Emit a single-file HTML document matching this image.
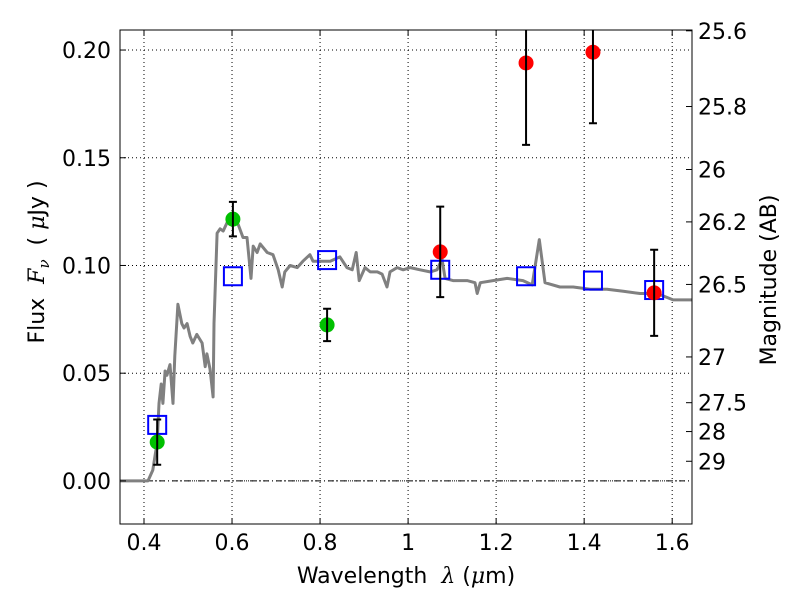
<!DOCTYPE html>
<html><head><meta charset="utf-8"><style>
body{margin:0;background:#fff}
svg{display:block;font-family:"DejaVu Sans","Liberation Sans",sans-serif}
</style></head><body>
<svg id="chart" width="800" height="600" xmlns="http://www.w3.org/2000/svg">
<rect x="0" y="0" width="800" height="600" fill="#fff"/>
<g id="grid"></g>
<g id="plot"></g>
<g id="axes"></g>
<text x="406" y="583" font-size="22" text-anchor="middle" xml:space="preserve">Wavelength  <tspan font-style="italic" font-family="DejaVu Serif,serif">λ</tspan> (<tspan font-style="italic" font-family="DejaVu Serif,serif">μ</tspan>m)</text>
<text transform="translate(44,262) rotate(-90)" font-size="22" text-anchor="middle" xml:space="preserve">Flux  <tspan font-style="italic" font-family="DejaVu Serif,serif">F<tspan font-size="15" dy="5">ν</tspan></tspan><tspan dy="-5">  ( </tspan><tspan font-style="italic" font-family="DejaVu Serif,serif">μ</tspan>Jy )</text>
<text transform="translate(776,280) rotate(-90)" font-size="22" text-anchor="middle">Magnitude (AB)</text>
</svg>
<script>
const specWave=[0.345,0.407,0.409,0.420,0.430,0.434,0.439,0.443,0.448,0.452,0.459,0.466,0.470,0.477,0.486,0.491,0.498,0.505,0.511,0.520,0.532,0.539,0.543,0.550,0.557,0.559,0.566,0.573,0.580,0.589,0.602,0.614,0.625,0.634,0.643,0.648,0.657,0.664,0.680,0.693,0.705,0.714,0.720,0.732,0.748,0.761,0.777,0.784,0.800,0.823,0.845,0.861,0.873,0.882,0.889,0.902,0.914,0.930,0.941,0.952,0.959,0.975,0.989,1.005,1.027,1.050,1.066,1.077,1.084,1.102,1.134,1.152,1.157,1.164,1.193,1.225,1.261,1.282,1.298,1.311,1.345,1.375,1.414,1.452,1.489,1.527,1.566,1.602,1.648];
const specFlux=[0,0,0,0.005,0.018,0.036,0.045,0.036,0.051,0.049,0.054,0.036,0.058,0.082,0.073,0.071,0.073,0.067,0.064,0.068,0.064,0.053,0.059,0.052,0.039,0.073,0.115,0.117,0.116,0.120,0.121,0.119,0.113,0.113,0.094,0.109,0.106,0.110,0.106,0.105,0.098,0.090,0.097,0.100,0.099,0.102,0.105,0.102,0.102,0.102,0.104,0.099,0.098,0.106,0.093,0.099,0.097,0.097,0.096,0.090,0.097,0.099,0.098,0.099,0.098,0.097,0.098,0.103,0.094,0.093,0.093,0.092,0.087,0.092,0.093,0.094,0.093,0.091,0.112,0.092,0.090,0.090,0.089,0.089,0.088,0.087,0.087,0.084,0.084];
const greenWave=[0.430,0.602,0.816];
const greenFlux=[0.018,0.1215,0.0724];
const greenErr=[0.0105,0.008,0.0075];
const redWave=[1.073,1.268,1.420,1.559];
const redFlux=[0.1063,0.194,0.199,0.0873];
const redErr=[0.021,0.038,0.033,0.020];
const boxWave=[0.430,0.602,0.816,1.073,1.268,1.420,1.559];
const boxFlux=[0.026,0.095,0.1025,0.098,0.095,0.093,0.0886];
const xTicks=[0.4,0.6,0.8,1.0,1.2,1.4,1.6];
const xTickLabels=["0.4","0.6","0.8","1","1.2","1.4","1.6"];
const yTicks=[0,0.05,0.10,0.15,0.20];
const yTickLabels=["0.00","0.05","0.10","0.15","0.20"];
const magTicks=[25.6,25.8,26,26.2,26.5,27,27.5,28,29];
const magTickLabels=["25.6","25.8","26","26.2","26.5","27","27.5","28","29"];

const L=120,R=692,T=30,B=524, X0=0.3455,X1=1.645, Y0=-0.02,Y1=0.2093;
const sx=v=>L+(v-X0)/(X1-X0)*(R-L);
const sy=v=>B-(v-Y0)/(Y1-Y0)*(B-T);
const NS="http://www.w3.org/2000/svg";
function mk(parent,tag,attrs){const e=document.createElementNS(NS,tag);for(const k in attrs)e.setAttribute(k,attrs[k]);parent.appendChild(e);return e;}
const grid=document.getElementById('grid'),plot=document.getElementById('plot'),axes=document.getElementById('axes');

xTicks.forEach((t,i)=>{
  const g=mk(grid,'line',{x1:sx(t),x2:sx(t),y1:T,y2:B,stroke:'#000','stroke-width':1,'stroke-dasharray':'1,3'});
  
  
  mk(axes,'line',{x1:sx(t),x2:sx(t),y1:B,y2:B-6,stroke:'#000'});
  mk(axes,'line',{x1:sx(t),x2:sx(t),y1:T,y2:T+6,stroke:'#000'});
  const tx=mk(axes,'text',{x:sx(t),y:B+26,'font-size':22,'text-anchor':'middle'});
  tx.textContent=xTickLabels[i];
  
  
});
yTicks.forEach((t,i)=>{
  const g=mk(grid,'line',{x1:L,x2:R,y1:sy(t),y2:sy(t),stroke:'#000','stroke-width':1,'stroke-dasharray':'1,3'});
  
  
  mk(axes,'line',{x1:L,x2:L+6,y1:sy(t),y2:sy(t),stroke:'#000'});
  const tx=mk(axes,'text',{x:L-9,y:sy(t)+8,'font-size':22,'text-anchor':'end'});
  tx.textContent=yTickLabels[i];
  
  
});
const zl=mk(grid,'line',{x1:L,x2:R,y1:sy(0),y2:sy(0),stroke:'#000','stroke-width':1,'stroke-dasharray':'6,3,1,3'});


magTicks.forEach((m,i)=>{
  const f=Math.pow(10,(23.9-m)/2.5);
  mk(axes,'line',{x1:R,x2:R-6,y1:sy(f),y2:sy(f),stroke:'#000'});
  const tx=mk(axes,'text',{x:R+6,y:sy(f)+8,'font-size':22});
  tx.textContent=magTickLabels[i];
  
  
});

const cp=mk(document.getElementById('chart'),'clipPath',{id:'clip'});
mk(cp,'rect',{x:L,y:T,width:R-L,height:B-T});
plot.setAttribute('clip-path','url(#clip)');

const d=specWave.map((w,i)=>(i?'L':'M')+sx(w).toFixed(1)+','+sy(specFlux[i]).toFixed(1)).join(' ');
const sp=mk(plot,'path',{d:d,fill:'none',stroke:'#808080','stroke-width':3,'stroke-linejoin':'round'});



boxWave.forEach((w,i)=>{
  const r=mk(plot,'rect',{x:sx(w)-9,y:sy(boxFlux[i])-9,width:18,height:18,fill:'none',stroke:'#0000ff','stroke-width':2});
  
  
});
function pts(wave,flux,err,color,name){
  wave.forEach((w,i)=>{
    const c=mk(plot,'circle',{cx:sx(w),cy:sy(flux[i]),r:7.5,fill:color});
    
    
    const x=sx(w),y1=sy(flux[i]+err[i]),y2=sy(flux[i]-err[i]);
    const e=mk(plot,'path',{d:`M${x},${y1}V${y2}M${x-4},${y1}H${x+4}M${x-4},${y2}H${x+4}`,stroke:'#000','stroke-width':2,fill:'none'});
    
    
  });
}
pts(greenWave,greenFlux,greenErr,'#00c000','hst-point');
pts(redWave,redFlux,redErr,'#ff0000','nir-point');

const fr=mk(axes,'rect',{x:L,y:T,width:R-L,height:B-T,fill:'none',stroke:'#000','stroke-width':1});


</script>
</body></html>
